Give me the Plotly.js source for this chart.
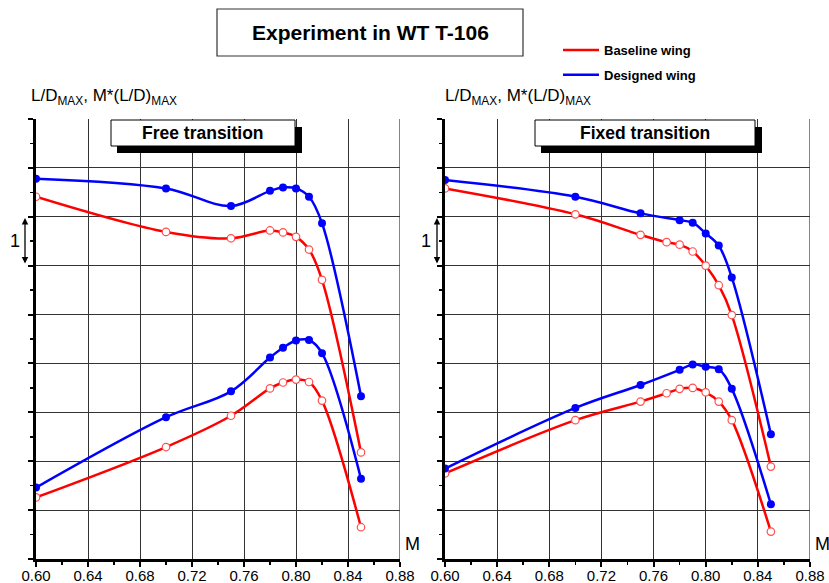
<!DOCTYPE html>
<html>
<head>
<meta charset="utf-8">
<script src="https://cdn.plot.ly/plotly-3.0.1.min.js"></script>
<style>html,body{margin:0;padding:0;background:#fff;}#chart{width:829px;height:583px;}</style>
</head>
<body>
<div id="chart"></div>
<script>
// ---- data ----
const machFree = [0.60, 0.70, 0.75, 0.78, 0.79, 0.80, 0.81, 0.82, 0.85];
const freeBaseLD  = [7.41, 6.69, 6.56, 6.72, 6.68, 6.59, 6.33, 5.71, 2.18];
const freeDesLD   = [7.78, 7.58, 7.22, 7.53, 7.60, 7.58, 7.41, 6.87, 3.33];
const freeBaseMLD = [1.26, 2.29, 2.93, 3.49, 3.61, 3.67, 3.62, 3.24, 0.65];
const freeDesMLD  = [1.46, 2.90, 3.43, 4.12, 4.32, 4.47, 4.48, 4.21, 1.64];

const machFixedBase = [0.60, 0.70, 0.75, 0.77, 0.78, 0.79, 0.80, 0.81, 0.82, 0.85];
const fixedBaseLD   = [7.58, 7.05, 6.63, 6.48, 6.43, 6.29, 6.00, 5.60, 4.99, 1.89];
const fixedBaseMLD  = [1.75, 2.84, 3.22, 3.39, 3.48, 3.50, 3.41, 3.22, 2.84, 0.56];
const machFixedDes  = [0.60, 0.70, 0.75, 0.78, 0.79, 0.80, 0.81, 0.82, 0.85];
const fixedDesLD    = [7.75, 7.41, 7.07, 6.93, 6.88, 6.66, 6.41, 5.76, 2.55];
const fixedDesMLD   = [1.85, 3.09, 3.56, 3.87, 3.98, 3.93, 3.88, 3.48, 1.12];

const xTickVals = [0.60, 0.64, 0.68, 0.72, 0.76, 0.80, 0.84, 0.88];
const xTickText = ["0.60", "0.64", "0.68", "0.72", "0.76", "0.80", "0.84", "0.88"];
const seriesNames = ["Baseline wing", "Designed wing"];
const titleText = "Experiment in WT T-106";
const panelNames = ["Free transition", "Fixed transition"];

// ---- styling ----
const RED = "#ff0000", BLUE = "#0000ff";
const FONT = "Liberation Sans, Arial, sans-serif";

function lineTrace(x, y, color, xa, ya, name, show) {
  return {x: x, y: y, xaxis: xa, yaxis: ya, mode: "lines", type: "scatter",
    line: {color: color, width: 2.5, shape: "spline", smoothing: 1},
    name: name, showlegend: show, legendgroup: name, hoverinfo: "skip"};
}
function markTrace(x, y, color, xa, ya, open) {
  return {x: x, y: y, xaxis: xa, yaxis: ya, mode: "markers", type: "scatter",
    marker: open ? {symbol: "circle", size: 7.5, color: "#ffffff", line: {color: "#ff5050", width: 1.2}}
                 : {symbol: "circle", size: 8, color: color, line: {width: 0}},
    showlegend: false, hoverinfo: "skip"};
}

const data = [
  lineTrace(machFree, freeBaseLD, RED, "x", "y", seriesNames[0], true),
  lineTrace(machFree, freeDesLD, BLUE, "x", "y", seriesNames[1], true),
  lineTrace(machFree, freeBaseMLD, RED, "x", "y", seriesNames[0], false),
  lineTrace(machFree, freeDesMLD, BLUE, "x", "y", seriesNames[1], false),
  markTrace(machFree, freeBaseLD, RED, "x", "y", true),
  markTrace(machFree, freeDesLD, BLUE, "x", "y", false),
  markTrace(machFree, freeBaseMLD, RED, "x", "y", true),
  markTrace(machFree, freeDesMLD, BLUE, "x", "y", false),
  lineTrace(machFixedBase, fixedBaseLD, RED, "x2", "y2", seriesNames[0], false),
  lineTrace(machFixedDes, fixedDesLD, BLUE, "x2", "y2", seriesNames[1], false),
  lineTrace(machFixedBase, fixedBaseMLD, RED, "x2", "y2", seriesNames[0], false),
  lineTrace(machFixedDes, fixedDesMLD, BLUE, "x2", "y2", seriesNames[1], false),
  markTrace(machFixedBase, fixedBaseLD, RED, "x2", "y2", true),
  markTrace(machFixedDes, fixedDesLD, BLUE, "x2", "y2", false),
  markTrace(machFixedBase, fixedBaseMLD, RED, "x2", "y2", true),
  markTrace(machFixedDes, fixedDesMLD, BLUE, "x2", "y2", false)
];

function xAxis(domain, anchor) {
  return {domain: domain, anchor: anchor, range: [0.60, 0.88], tickmode: "array",
    tickvals: xTickVals, ticktext: xTickText, showgrid: true, gridcolor: "#333", gridwidth: 1,
    showline: true, linecolor: "#000", linewidth: 3, ticks: "outside", ticklen: 5, tickwidth: 2, tickcolor: "#000",
    minor: {dtick: 0.02, ticks: "outside", ticklen: 3, tickwidth: 1.5, tickcolor: "#000", showgrid: false},
    ticklabelstandoff: -4,
    tickfont: {family: FONT, size: 15, color: "#000"}, zeroline: false, fixedrange: true};
}
function yAxis(anchor) {
  return {domain: [24/583, 464/583], anchor: anchor, range: [0, 9], dtick: 1, tick0: 0,
    showticklabels: false, showgrid: true, gridcolor: "#333", gridwidth: 1,
    showline: true, linecolor: "#000", linewidth: 3, ticks: "outside", ticklen: 5, tickwidth: 2, tickcolor: "#000",
    minor: {dtick: 0.5, ticks: "outside", ticklen: 3, tickwidth: 1.5, tickcolor: "#000", showgrid: false},
    zeroline: false, fixedrange: true};
}

function px(x) { return x / 829; }
function py(y) { return 1 - y / 583; }

function panelBox(x0, x1) {
  return [
    {type: "rect", xref: "paper", yref: "paper", x0: px(x0 + 6), x1: px(x1 + 7), y0: py(153), y1: py(127),
      fillcolor: "#000", line: {width: 0}, layer: "above"},
    {type: "rect", xref: "paper", yref: "paper", x0: px(x0), x1: px(x1), y0: py(146), y1: py(120),
      fillcolor: "#fff", line: {color: "#000", width: 1}, layer: "above"}
  ];
}

const shapes = [
  {type: "rect", xref: "paper", yref: "paper", x0: px(217), x1: px(523), y0: py(56), y1: py(9),
    fillcolor: "#fff", line: {color: "#333", width: 1.2}},
  {type: "line", xref: "x", yref: "y domain", x0: 0.88, x1: 0.88, y0: 0, y1: 1, line: {color: "#333", width: 1.2}},
  {type: "line", xref: "x2", yref: "y2 domain", x0: 0.88, x1: 0.88, y0: 0, y1: 1, line: {color: "#333", width: 1.2}}
].concat(panelBox(111, 295), panelBox(535, 755));

function ann(text, x, y, size, bold, xanchor) {
  return {text: bold ? "<b>" + text + "</b>" : text, xref: "paper", yref: "paper", x: px(x), y: py(y),
    xanchor: xanchor || "center", yanchor: "middle", showarrow: false,
    font: {family: FONT, size: size, color: "#000"}};
}
function arrow1(x) {
  return {xref: "paper", yref: "paper", x: px(x), y: py(218), ax: 0, ay: 47, axref: "pixel", ayref: "pixel",
    text: "", showarrow: true, arrowhead: 2, startarrowhead: 2, arrowside: "end+start",
    arrowsize: 1, arrowwidth: 1.3, arrowcolor: "#000"};
}
const yTitle = "L/D<sub>MAX</sub>, M*(L/D)<sub>MAX</sub>";

const annotations = [
  ann(titleText, 370, 33, 21, true),
  ann(panelNames[0], 203, 133, 17.5, true),
  ann(panelNames[1], 645, 133, 17.5, true),
  ann(yTitle, 29, 97, 17, false, "left"),
  ann(yTitle, 443, 97, 17, false, "left"),
  ann("1", 14.5, 241, 18, false),
  ann("1", 426, 241, 18, false),
  arrow1(25), arrow1(437),
  ann("M", 412, 544, 18, false),
  ann("M", 822, 544, 18, false)
];

const layout = {
  width: 829, height: 583, margin: {l: 0, r: 0, t: 0, b: 0},
  paper_bgcolor: "#fff", plot_bgcolor: "#fff",
  font: {family: FONT, color: "#000"},
  xaxis: xAxis([36/829, 400/829], "y"),
  yaxis: yAxis("x"),
  xaxis2: xAxis([445/829, 810/829], "y2"),
  yaxis2: yAxis("x2"),
  showlegend: true,
  legend: {x: px(558), y: py(35), xanchor: "left", yanchor: "top", bgcolor: "rgba(0,0,0,0)",
    itemwidth: 36,
    font: {family: FONT, size: 13, color: "#000", weight: "bold"}, traceorder: "grouped", tracegroupgap: 5},
  shapes: shapes,
  annotations: annotations
};

Plotly.newPlot("chart", data, layout, {staticPlot: true, displayModeBar: false});
</script>
</body>
</html>
